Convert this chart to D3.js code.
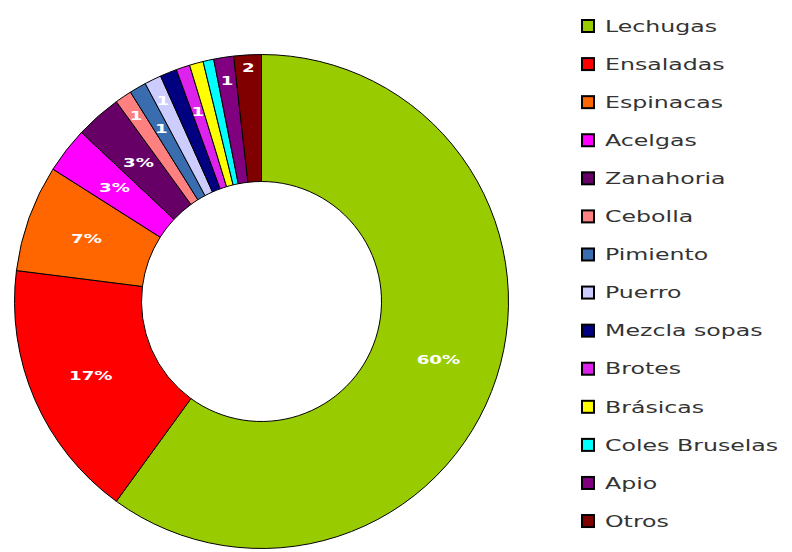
<!DOCTYPE html>
<html>
<head>
<meta charset="utf-8">
<script src="https://cdn.jsdelivr.net/npm/d3@7"></script>
<style>
  body { margin: 0; background: #fff; }
  svg { display: block; }
</style>
</head>
<body>
<div id="chart"></div>
<script>
// data (percent of total)
var categories = ["Lechugas", "Ensaladas", "Espinacas", "Acelgas", "Zanahoria", "Cebolla", "Pimiento",
                  "Puerro", "Mezcla sopas", "Brotes", "Brásicas", "Coles Bruselas", "Apio", "Otros"];
var values = [60, 17, 7, 3, 3, 1.1, 1.1, 1.1, 1.1, 0.9, 0.9, 0.7, 1.3, 1.8];
var sliceLabels = ["60%", "17%", "7%", "3%", "3%", "1", "1", "1", "", "1", "", "", "1", "2"];
var colors = ["#99cc00", "#ff0000", "#ff6600", "#ff00ff", "#660066", "#ff8080", "#3a6db0",
              "#ccccff", "#000080", "#dd22ee", "#ffff00", "#00ffff", "#800080", "#800000"];

var svg = d3.select("#chart")
    .append("svg")
    .attr("width", 792)
    .attr("height", 552);

var cx = 261.5, cy = 301.5,
    outerR = 247, innerR = 120;

var data = categories.map(function(c, i) {
  return {name: c, value: values[i], label: sliceLabels[i], color: colors[i]};
});

var pie = d3.pie()
    .sort(null)
    .value(function(d) { return d.value; });

var arc = d3.arc()
    .innerRadius(innerR)
    .outerRadius(outerR);

var g = svg.append("g")
    .attr("transform", "translate(" + cx + "," + cy + ")");

var arcs = pie(data);

g.selectAll(".slice")
  .data(arcs)
  .enter().append("path")
    .attr("class", "slice")
    .attr("d", arc)
    .attr("fill", function(d) { return d.data.color; })
    .attr("stroke", "#000")
    .attr("stroke-width", 1)
    .attr("stroke-linejoin", "round");

// labels: big slices at the ring middle, small ones staggered outward
var smallCount = 0;
g.selectAll(".lbl")
  .data(arcs.filter(function(d) { return d.data.label !== ""; }))
  .enter().append("text")
    .attr("class", "lbl")
    .attr("transform", function(d) {
      var r = 186;
      if (d.data.value < 2.5) {
        r = (smallCount++ % 2 === 0) ? 224 : 200;
        if (d.data.value > 1.5) r = 234;
      }
      var a = (d.startAngle + d.endAngle) / 2;
      return "translate(" + (Math.sin(a) * r) + "," + (-Math.cos(a) * r) + ") scale(1.4,1)";
    })
    .attr("text-anchor", "middle")
    .attr("dy", "0.35em")
    .attr("font-family", "DejaVu Sans, sans-serif")
    .attr("font-weight", "bold")
    .attr("font-size", 13)
    .attr("fill", "#fff")
    .text(function(d) { return d.data.label; });

// legend
var legend = svg.append("g")
    .attr("transform", "translate(581,26)");

var row = legend.selectAll(".row")
    .data(data)
  .enter().append("g")
    .attr("class", "row")
    .attr("transform", function(d, i) { return "translate(0," + (i * 38.08) + ")"; });

row.append("rect")
    .attr("x", 1)
    .attr("y", -6)
    .attr("width", 12)
    .attr("height", 12)
    .attr("fill", function(d) { return d.color; })
    .attr("stroke", "#000")
    .attr("stroke-width", 2);

row.append("text")
    .attr("transform", "translate(24,0) scale(1.48,1)")
    .attr("dy", "0.36em")
    .attr("font-family", "DejaVu Sans, sans-serif")
    .attr("font-size", 16)
    .attr("fill", "#333")
    .text(function(d) { return d.name; });
</script>
</body>
</html>
